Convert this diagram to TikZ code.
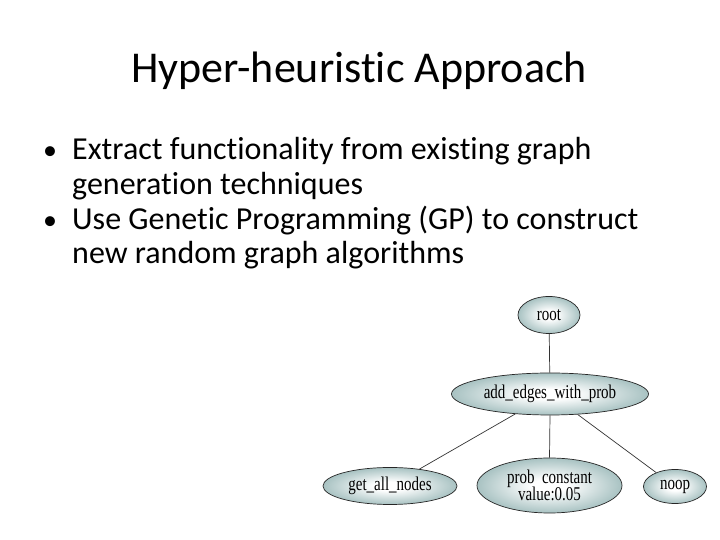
\documentclass[tikz,border=0pt]{standalone}
\usepackage{fontspec}
\setmainfont{Carlito}[Ligatures={NoCommon,NoRequired,NoContextual}]
\newfontfamily\treefont{Liberation Serif}
\usetikzlibrary{shapes.geometric}
\definecolor{nodeedge}{RGB}{168,194,194}
\pgfdeclareradialshading{nodeshade}{\pgfpoint{0bp}{0bp}}{color(0bp)=(white); color(6bp)=(white); color(25bp)=(nodeedge); color(50bp)=(nodeedge)}
\newcommand\tallt[1]{\scalebox{1}[1.3]{#1}}
\begin{document}
\begin{tikzpicture}[x=1pt,y=1pt,
  tnode/.style={ellipse, draw=black!85, line width=0.7pt, shading=nodeshade,
    inner sep=0pt, font=\treefont\fontsize{15}{16}\selectfont, align=center},
  link/.style={draw=black!80, line width=0.7pt},
  bodytext/.style={anchor=base west, inner sep=0pt, font=\fontsize{32}{35}\selectfont},
  bulletmark/.style={anchor=base, inner sep=0pt, font=\fontsize{28}{34}\selectfont}]
\useasboundingbox (0,0) rectangle (720,540);
\fill[white] (0,0) rectangle (720,540);

\node[anchor=base, inner sep=0pt, font=\fontsize{44}{53}\selectfont] (title) at (359,457) {Hyper-heuristic Approach};

\node[bulletmark] (b1) at (50,380) {•};
\node[bodytext] (l1) at (72,380) {Extract functionality from existing graph};
\node[bodytext] (l2) at (72,345) {generation techniques};
\node[bulletmark] (b2) at (50,310) {•};
\node[bodytext] (l3) at (72,310) {Use Genetic Programming (GP) to construct};
\node[bodytext] (l4) at (72,276) {new random graph algorithms};

\node[tnode, minimum width=62pt, minimum height=37pt] (root) at (549,225) {\tallt{root}};
\node[tnode, minimum width=197pt, minimum height=42pt] (add) at (550,146) {\tallt{add\_edges\_with\_prob}};
\node[tnode, minimum width=134pt, minimum height=37pt] (get) at (390,54) {\tallt{get\_all\_nodes}};
\node[tnode, minimum width=145pt, minimum height=55pt] (prob) at (549.5,54.5) {\tallt{prob\ \ constant}\\[-1pt]\tallt{value:0.05}};
\node[tnode, minimum width=63pt, minimum height=34pt] (noop) at (675,53.5) {\tallt{noop}};

\draw[link] (root) -- (add);
\draw[link] (add) -- (get);
\draw[link] (add.south) -- (prob.north);
\draw[link] (add) -- (noop);
\end{tikzpicture}
\end{document}
